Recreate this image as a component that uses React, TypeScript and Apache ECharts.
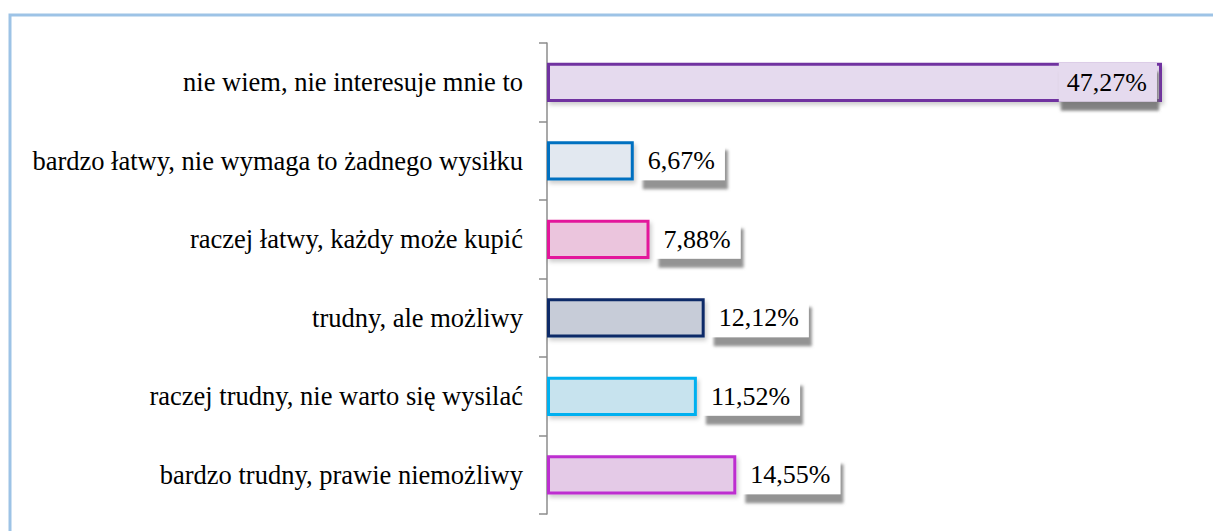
import React, { useEffect, useRef } from "react";
import * as echarts from "echarts";

const categories = [
  "nie wiem, nie interesuje mnie to",
  "bardzo łatwy, nie wymaga to żadnego wysiłku",
  "raczej łatwy, każdy może kupić",
  "trudny, ale możliwy",
  "raczej trudny, nie warto się wysilać",
  "bardzo trudny, prawie niemożliwy",
];
const values = [47.27, 6.67, 7.88, 12.12, 11.52, 14.55];
const borderColors = ["#7030a0", "#0070c0", "#e3189b", "#0c2a68", "#00b0f0", "#bd2ed0"];
const fillColors = ["#e5daee", "#e2e8f0", "#ebc5dd", "#c7ccd8", "#c7e3ee", "#e4cae7"];

const FONT = "'Liberation Serif', 'Times New Roman', serif";

export default function App() {
  const ref = useRef<HTMLDivElement>(null);
  useEffect(() => {
    if (!ref.current) return;
    const chart = echarts.init(ref.current, null, { renderer: "svg" });
    const fmt = (v: number) => v.toFixed(2).replace(".", ",") + "%";
    const labelBase = {
      show: true,
      position: "right",
      distance: 6,
      formatter: (p: any) => fmt(p.value),
      fontFamily: FONT,
      fontSize: 26,
      lineHeight: 28,
      color: "#000",
      backgroundColor: "#ffffff",
      padding: [6, 10, 5, 8],
      shadowColor: "rgba(128,128,128,0.85)",
      shadowBlur: 3,
      shadowOffsetX: 3,
      shadowOffsetY: 9,
    };
    chart.setOption({
      animation: false,
      backgroundColor: "#ffffff",
      graphic: [
        {
          type: "rect",
          shape: { x: 10, y: 15, width: 1260, height: 560 },
          style: { fill: "none", stroke: "#9dc3e6", lineWidth: 3 },
          silent: true,
        },
      ],
      grid: { left: 547, top: 43, bottom: 17, right: 15.5, containLabel: false },
      xAxis: {
        type: "value",
        min: 0,
        max: 50,
        show: false,
        splitLine: { show: false },
      },
      yAxis: {
        type: "category",
        inverse: true,
        data: categories,
        axisLine: { show: true, lineStyle: { color: "#8c8c8c", width: 1.5 } },
        axisTick: { show: true, length: 8, lineStyle: { color: "#8c8c8c", width: 1.5 } },
        axisLabel: { fontFamily: FONT, fontSize: 26.5, color: "#000", margin: 24 },
        splitLine: { show: false },
      },
      series: [
        {
          type: "bar",
          barWidth: "50%",
          data: values.map((v, i) => ({
            value: v,
            itemStyle: {
              color: fillColors[i],
              borderColor: borderColors[i],
              borderWidth: 3,
              shadowColor: "rgba(0,0,0,0.2)",
              shadowBlur: 4,
              shadowOffsetX: 2,
              shadowOffsetY: 3,
            },
            label:
              i === 0
                ? {
                    position: "insideRight",
                    distance: 5,
                    backgroundColor: fillColors[0],
                    shadowColor: "rgba(110,110,110,0.85)",
                    shadowOffsetX: 2,
                    shadowOffsetY: 9,
                  }
                : {},
          })),
          label: labelBase,
        },
      ],
    });
    return () => chart.dispose();
  }, []);
  return (
    <div
      ref={ref}
      style={{ position: "fixed", left: 0, top: 0, width: 1213, height: 531 }}
    />
  );
}
